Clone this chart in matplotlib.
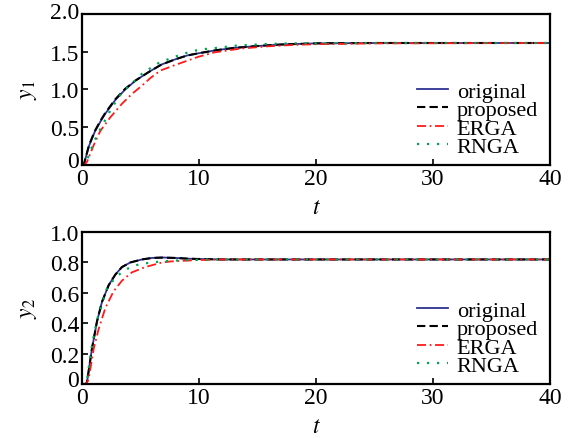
import matplotlib
matplotlib.use('Agg')
import matplotlib.pyplot as plt
from matplotlib.transforms import ScaledTranslation

plt.rcParams['font.family'] = ['Liberation Serif', 'DejaVu Serif']
plt.rcParams['mathtext.fontset'] = 'stix'

# step responses (t, y)
t1_orig = [0, 0.15, 0.6, 1.1, 1.6, 2.0, 2.85, 3.7, 4.6, 5.7, 6.8, 8.0, 9.0, 10.0, 11.5, 13.0, 15.0, 17.0, 20.0, 25.0, 40.0]
y1_orig = [0, 0.0, 0.25, 0.44, 0.58, 0.68, 0.86, 1.0, 1.12, 1.23, 1.33, 1.40, 1.45, 1.48, 1.52, 1.55, 1.575, 1.595, 1.61, 1.615, 1.615]
y1_prop = [0, 0.0, 0.26, 0.45, 0.59, 0.69, 0.87, 1.01, 1.12, 1.23, 1.33, 1.40, 1.45, 1.48, 1.52, 1.55, 1.575, 1.595, 1.61, 1.615, 1.615]
t1_erga = [0, 0.2, 0.43, 1.0, 1.57, 2.42, 3.42, 4.27, 5.13, 5.84, 6.7, 7.9, 9.9, 11.3, 13.5, 15.8, 18.1, 20.3, 25.0, 40.0]
y1_erga = [0, 0.0, 0.04, 0.26, 0.45, 0.63, 0.81, 0.94, 1.05, 1.15, 1.25, 1.32, 1.43, 1.49, 1.54, 1.57, 1.59, 1.60, 1.61, 1.615]
t1_rnga = [0, 0.2, 0.43, 1.0, 1.42, 2.14, 2.56, 3.42, 4.56, 5.27, 5.84, 6.55, 7.2, 8.6, 10.1, 10.9, 13.2, 15.5, 17.8, 25.0, 40.0]
y1_rnga = [0, 0.0, 0.06, 0.30, 0.43, 0.64, 0.76, 0.96, 1.12, 1.23, 1.28, 1.35, 1.39, 1.47, 1.53, 1.54, 1.58, 1.60, 1.61, 1.615, 1.615]

t2_orig = [0, 0.3, 0.43, 0.85, 1.28, 1.71, 2.28, 2.85, 3.42, 4.13, 5.13, 6.0, 6.84, 8.0, 9.06, 10.5, 12.0, 15.0, 40.0]
y2_orig = [0, 0.0, 0.01, 0.23, 0.41, 0.54, 0.65, 0.72, 0.77, 0.80, 0.82, 0.83, 0.833, 0.83, 0.825, 0.822, 0.82, 0.82, 0.82]
y2_prop = [0, 0.0, 0.01, 0.23, 0.41, 0.54, 0.65, 0.72, 0.77, 0.80, 0.82, 0.83, 0.832, 0.83, 0.825, 0.822, 0.82, 0.82, 0.82]
t2_erga = [0, 0.35, 0.57, 1.0, 1.42, 2.0, 2.7, 3.42, 4.27, 5.41, 6.84, 7.6, 9.6, 12.0, 40.0]
y2_erga = [0, 0.0, 0.03, 0.23, 0.36, 0.50, 0.61, 0.68, 0.735, 0.77, 0.80, 0.807, 0.815, 0.82, 0.82]
t2_rnga = [0, 0.3, 0.43, 0.85, 1.28, 1.65, 2.14, 2.85, 3.56, 4.27, 4.99, 5.98, 6.84, 8.5, 11.0, 40.0]
y2_rnga = [0, 0.0, 0.03, 0.25, 0.42, 0.51, 0.63, 0.70, 0.745, 0.774, 0.79, 0.80, 0.807, 0.815, 0.82, 0.82]

labels = ['original', 'proposed', 'ERGA', 'RNGA']

fig = plt.figure(figsize=(5.73, 4.39), dpi=100)
ax1 = fig.add_axes([0.143, 0.622, 0.817, 0.344])
ax2 = fig.add_axes([0.143, 0.123, 0.817, 0.346])


def draw(ax, data, ymax, yticks, yticklabels, ylabel, lift):
    (to, yo), (tp, yp), (te, ye), (tr, yr) = data
    ax.plot(to, yo, color='#2e3192', lw=1.3, label=labels[0])
    ax.plot(tp, yp, color='black', lw=1.5, dashes=(4, 2), label=labels[1])
    ax.plot(te, ye, color='#ff1a1a', lw=1.3, dashes=(5, 2, 1, 2), label=labels[2])
    ax.plot(tr, yr, color='#00a651', lw=1.6, dashes=(1, 3.5), label=labels[3])
    ax.set_xlim(0, 40)
    ax.set_ylim(0, ymax)
    ax.set_xticks([0, 10, 20, 30, 40])
    ax.set_yticks(yticks)
    ax.set_yticklabels(yticklabels)
    ax.tick_params(direction='in', length=4, width=1.2, labelsize=17, pad=2)
    for s in ax.spines.values():
        s.set_linewidth(1.6)
    # the end labels sit a bit higher in the original
    tl = ax.get_yticklabels()
    for i, dy in lift:
        tl[i].set_transform(tl[i].get_transform() + ScaledTranslation(0, dy / 100, fig.dpi_scale_trans))
    ax.set_xlabel('$t$', fontsize=17, labelpad=6)
    ax.set_ylabel(ylabel, fontsize=17, labelpad=8)
    ax.legend(loc='lower right', bbox_to_anchor=(0.998, -0.02), frameon=False,
              fontsize=16, borderpad=0, handlelength=1.4, handletextpad=0.4,
              labelspacing=-0.1)


draw(ax1, [(t1_orig, y1_orig), (t1_orig, y1_prop), (t1_erga, y1_erga), (t1_rnga, y1_rnga)],
     2.0, [0, 0.5, 1.0, 1.5, 2.0], ['0', '0.5', '1.0', '1.5', '2.0'], '$y_1$', [(0, 6), (4, 4)])
draw(ax2, [(t2_orig, y2_orig), (t2_orig, y2_prop), (t2_erga, y2_erga), (t2_rnga, y2_rnga)],
     1.0, [0, 0.2, 0.4, 0.6, 0.8, 1.0], ['0', '0.2', '0.4', '0.6', '0.8', '1.0'], '$y_2$', [(0, 6)])

fig.savefig('out.png', dpi=100)
